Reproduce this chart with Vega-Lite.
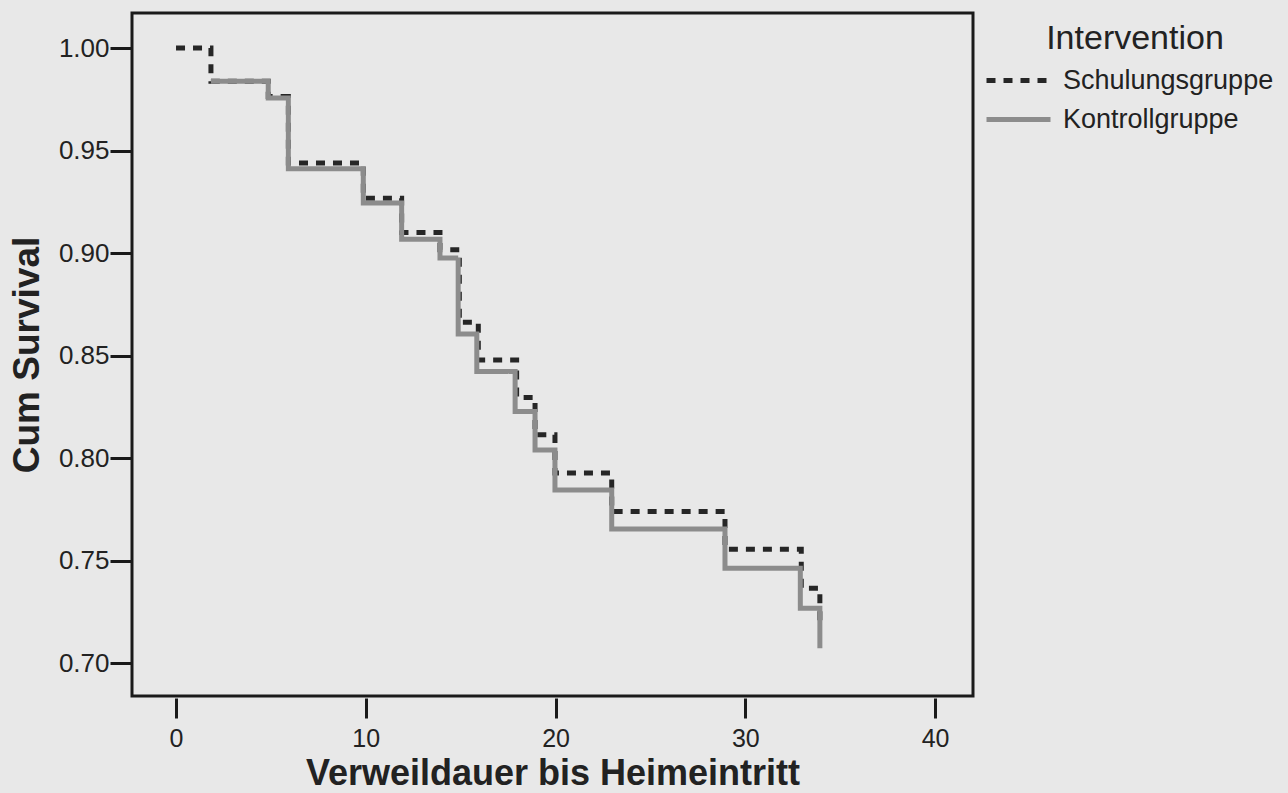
{
  "$schema": "https://vega.github.io/schema/vega-lite/v6.json",
  "width": 841,
  "height": 683,
  "autosize": {"type": "none"},
  "padding": {"left": 132, "top": 13, "right": 315, "bottom": 97},
  "background": "#e8e8e8",
  "config": {
    "font": "Liberation Sans",
    "view": {"stroke": "#1a1a1a", "strokeWidth": 3, "fill": "#e8e8e8"}
  },
  "data": {
    "values": [
      {"Intervention": "Schulungsgruppe", "t": 0, "s": 1.0},
      {"Intervention": "Schulungsgruppe", "t": 1.84, "s": 0.9838},
      {"Intervention": "Schulungsgruppe", "t": 4.86, "s": 0.9764},
      {"Intervention": "Schulungsgruppe", "t": 5.92, "s": 0.9439},
      {"Intervention": "Schulungsgruppe", "t": 9.87, "s": 0.9268},
      {"Intervention": "Schulungsgruppe", "t": 11.89, "s": 0.9100},
      {"Intervention": "Schulungsgruppe", "t": 13.91, "s": 0.9016},
      {"Intervention": "Schulungsgruppe", "t": 14.93, "s": 0.8663},
      {"Intervention": "Schulungsgruppe", "t": 15.93, "s": 0.8479},
      {"Intervention": "Schulungsgruppe", "t": 17.95, "s": 0.8296},
      {"Intervention": "Schulungsgruppe", "t": 18.92, "s": 0.8114},
      {"Intervention": "Schulungsgruppe", "t": 19.97, "s": 0.7927},
      {"Intervention": "Schulungsgruppe", "t": 22.96, "s": 0.7740},
      {"Intervention": "Schulungsgruppe", "t": 28.93, "s": 0.7556},
      {"Intervention": "Schulungsgruppe", "t": 32.95, "s": 0.7366},
      {"Intervention": "Schulungsgruppe", "t": 33.93, "s": 0.7180},
      {"Intervention": "Kontrollgruppe", "t": 1.84, "s": 0.9838},
      {"Intervention": "Kontrollgruppe", "t": 4.86, "s": 0.9756},
      {"Intervention": "Kontrollgruppe", "t": 5.92, "s": 0.9411},
      {"Intervention": "Kontrollgruppe", "t": 9.87, "s": 0.9244},
      {"Intervention": "Kontrollgruppe", "t": 11.89, "s": 0.9068},
      {"Intervention": "Kontrollgruppe", "t": 13.91, "s": 0.8976},
      {"Intervention": "Kontrollgruppe", "t": 14.87, "s": 0.8605},
      {"Intervention": "Kontrollgruppe", "t": 15.85, "s": 0.8422},
      {"Intervention": "Kontrollgruppe", "t": 17.87, "s": 0.8227},
      {"Intervention": "Kontrollgruppe", "t": 18.92, "s": 0.8040},
      {"Intervention": "Kontrollgruppe", "t": 19.97, "s": 0.7845},
      {"Intervention": "Kontrollgruppe", "t": 22.96, "s": 0.7654},
      {"Intervention": "Kontrollgruppe", "t": 28.93, "s": 0.7463},
      {"Intervention": "Kontrollgruppe", "t": 32.9, "s": 0.7268},
      {"Intervention": "Kontrollgruppe", "t": 33.93, "s": 0.7073}
    ]
  },
  "mark": {"type": "line", "interpolate": "step-after", "strokeWidth": 5, "strokeCap": "butt"},
  "encoding": {
    "x": {
      "field": "t", "type": "quantitative",
      "scale": {"domain": [-2.32, 42.0], "nice": false, "zero": false},
      "axis": {
        "title": "Verweildauer bis Heimeintritt",
        "values": [0, 10, 20, 30, 40],
        "grid": false, "domain": false,
        "offset": 2,
        "tickColor": "#1a1a1a", "tickWidth": 3, "tickSize": 20,
        "labelFontSize": 25, "labelColor": "#222", "labelPadding": 8,
        "titleFontSize": 36, "titleFontWeight": "bold", "titleColor": "#222", "titlePadding": 5
      }
    },
    "y": {
      "field": "s", "type": "quantitative",
      "scale": {"domain": [0.684, 1.0171], "nice": false, "zero": false},
      "axis": {
        "title": "Cum Survival",
        "values": [0.70, 0.75, 0.80, 0.85, 0.90, 0.95, 1.00],
        "format": ".2f",
        "grid": false, "domain": false,
        "tickColor": "#1a1a1a", "tickWidth": 3, "tickSize": 22,
        "labelFontSize": 26, "labelColor": "#222", "labelPadding": 1,
        "titleFontSize": 37, "titleFontWeight": "bold", "titleColor": "#222", "titlePadding": 12
      }
    },
    "color": {
      "field": "Intervention", "type": "nominal",
      "scale": {"domain": ["Schulungsgruppe", "Kontrollgruppe"], "range": ["#262626", "#8c8c8c"]},
      "legend": {
        "orient": "none", "legendX": 864, "legendY": 9,
        "title": "Intervention", "titleFontSize": 34, "titleFontWeight": "normal", "titleColor": "#222",
        "titleAnchor": "middle", "titlePadding": 2,
        "labelFontSize": 27, "labelColor": "#222", "labelOffset": 22, "labelLimit": 400,
        "symbolType": "M-1.6,0H1.6", "symbolSize": 1600, "symbolStrokeWidth": 5,
        "rowPadding": 3
      }
    },
    "strokeDash": {
      "field": "Intervention", "type": "nominal",
      "scale": {"domain": ["Schulungsgruppe", "Kontrollgruppe"], "range": [[9, 8], [1, 0]]},
      "legend": null
    }
  }
}
